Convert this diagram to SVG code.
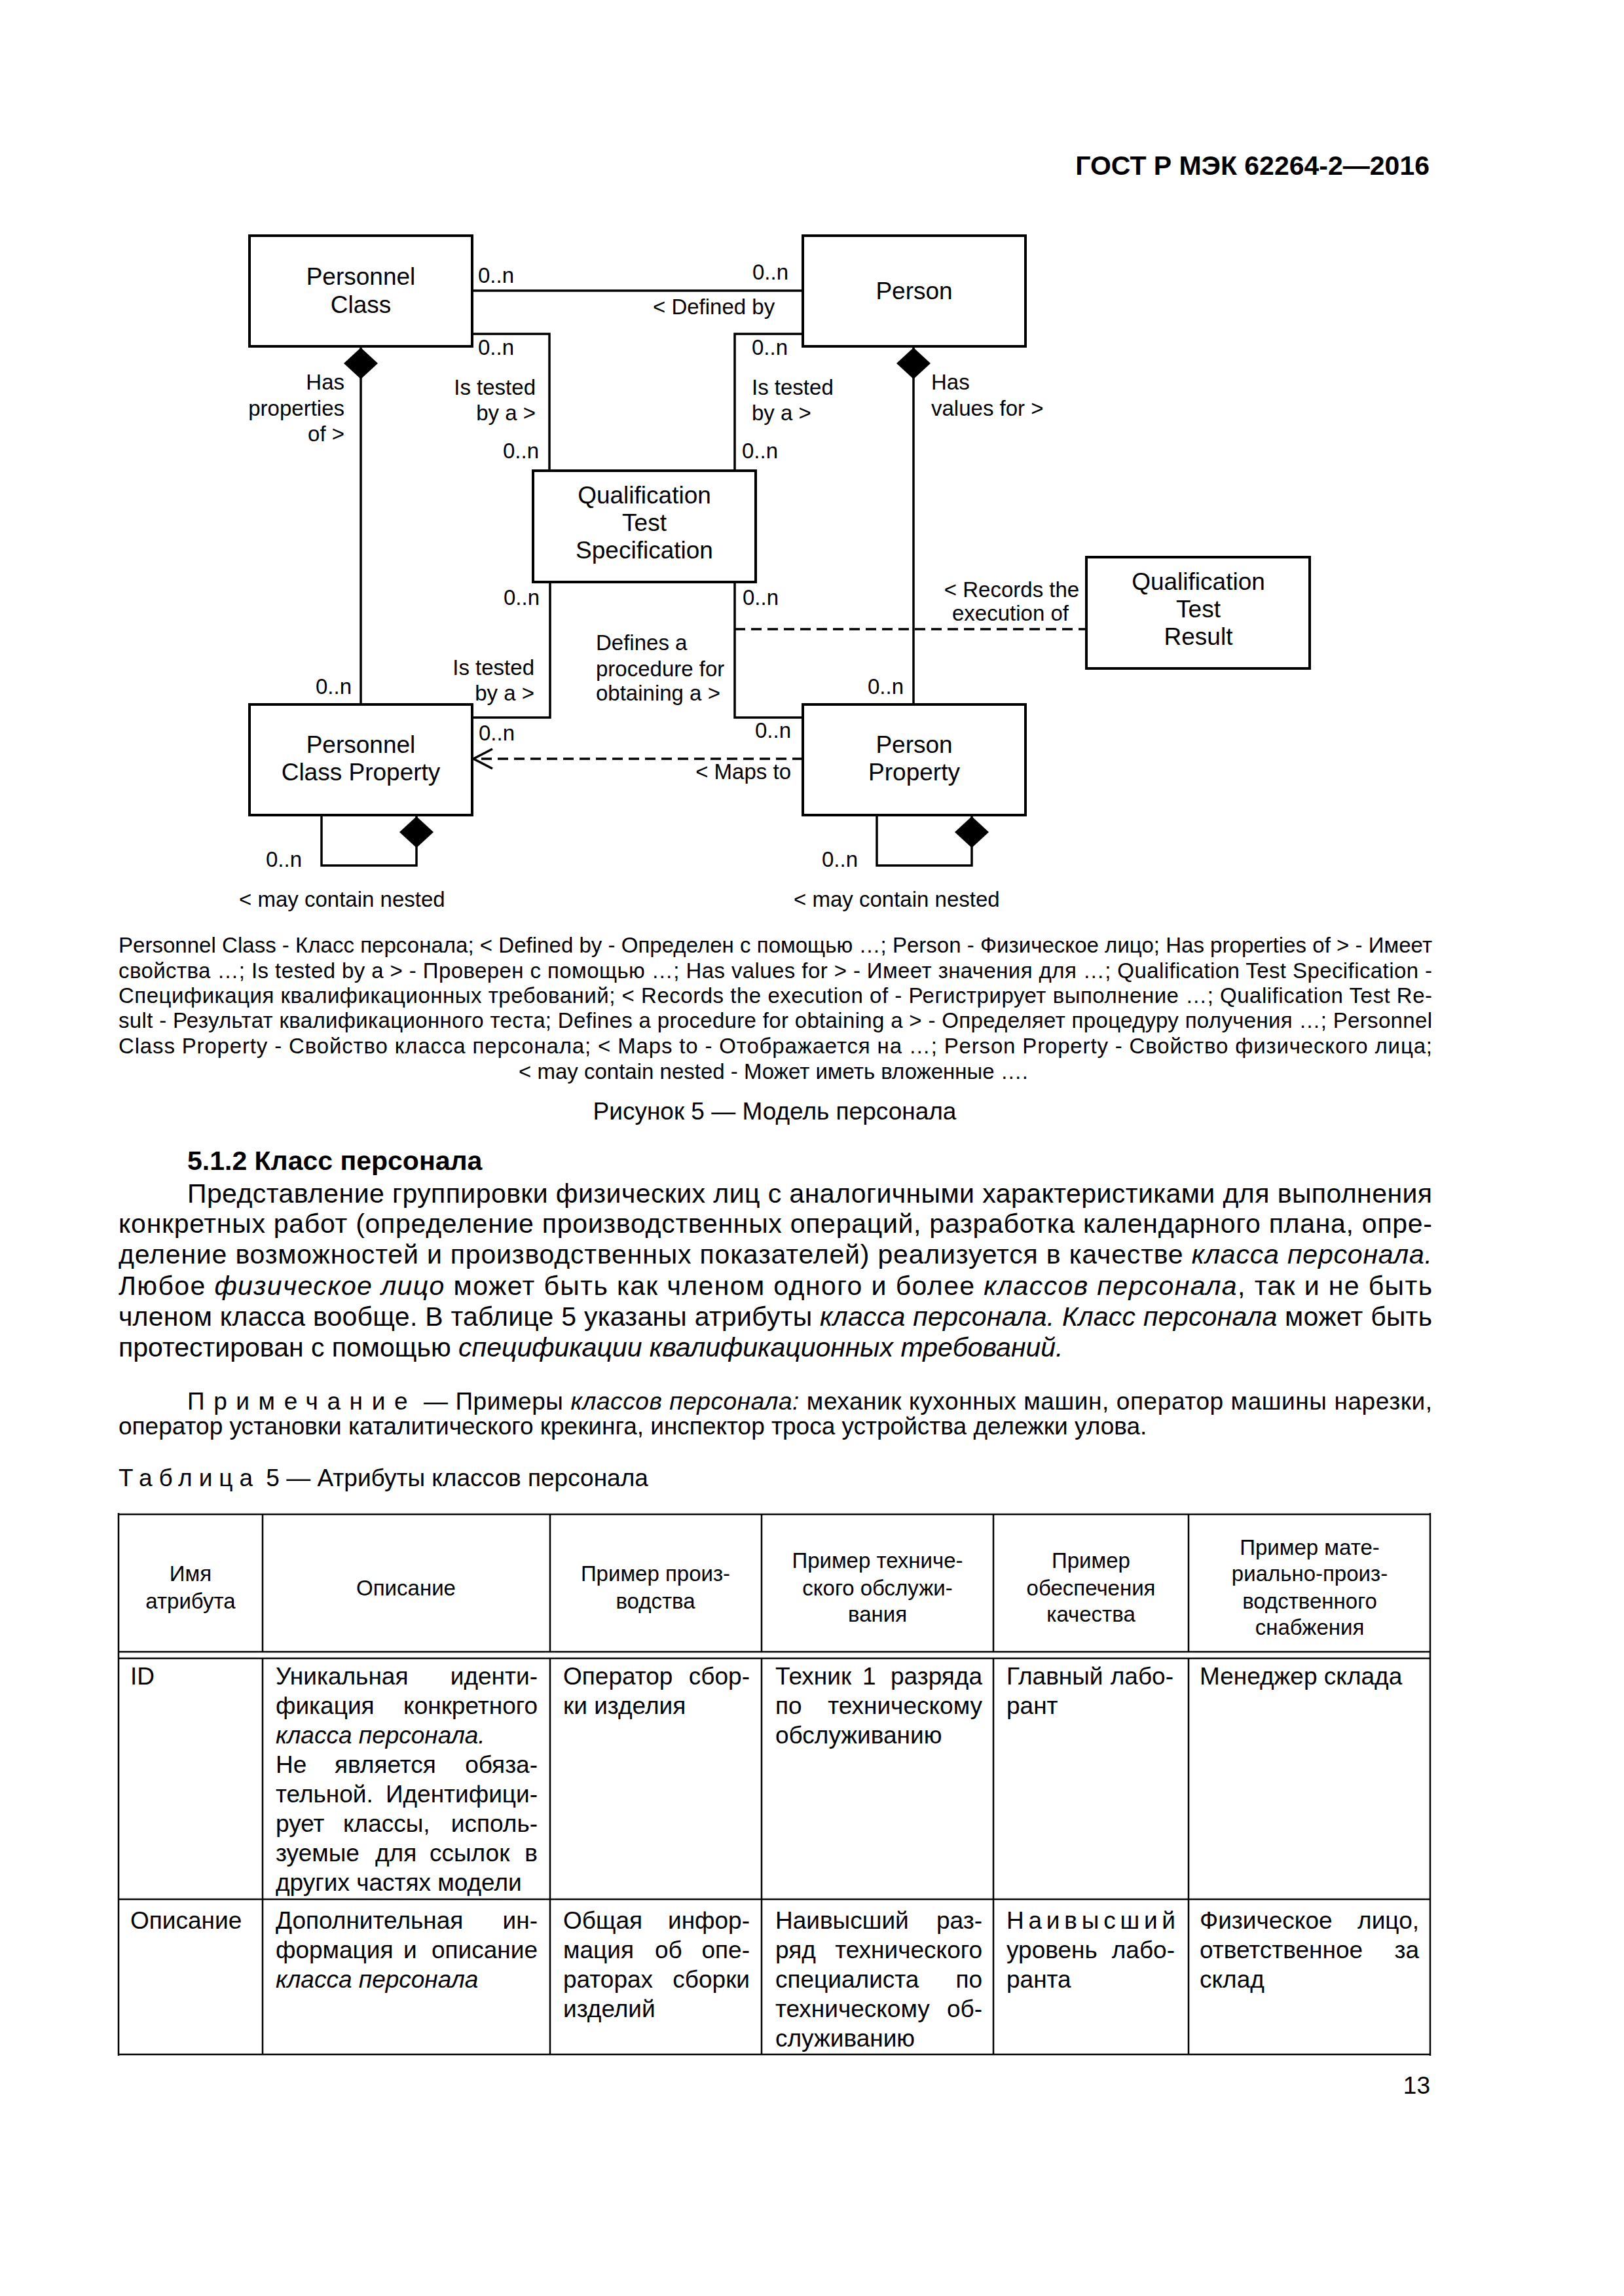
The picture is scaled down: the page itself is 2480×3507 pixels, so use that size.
<svg xmlns="http://www.w3.org/2000/svg" width="2480" height="3507" viewBox="0 0 2480 3507">
<style>
text{font-family:"Liberation Sans",Arial,sans-serif;fill:#000}
.n{font-size:37px;text-anchor:middle}
.l{font-size:33px}
.e{text-anchor:end}
.m{text-anchor:middle}
.box{fill:#fff;stroke:#000;stroke-width:4}
.c{fill:none;stroke:#000;stroke-width:3.5}
.d{fill:none;stroke:#000;stroke-width:3.5;stroke-dasharray:16 9}
.b{font-size:41px}
.cap{font-size:33px}
.t37{font-size:37px}
.h{font-size:33px;text-anchor:middle}
.i{font-style:italic}
.tl{stroke:#000;stroke-width:2.5}
</style>
<defs>
<marker id="comp" markerUnits="userSpaceOnUse" markerWidth="50" markerHeight="54" viewBox="0 -27 50 54" refX="48" refY="0" orient="auto-start-reverse" overflow="visible">
<path d="M0,0 L24,-26 L48,0 L24,26 Z" fill="#000" stroke="none"/>
</marker>
<marker id="open" markerUnits="userSpaceOnUse" markerWidth="34" markerHeight="36" viewBox="-32 -18 34 36" refX="0" refY="0" orient="auto" overflow="visible">
<path d="M-29,-15 L0,0 L-29,15" fill="none" stroke="#000" stroke-width="3.5"/>
</marker>
</defs>
<rect width="2480" height="3507" fill="#fff"/>

<text x="2183" y="267" font-size="41" font-weight="bold" text-anchor="end">ГОСТ Р МЭК 62264-2—2016</text>

<g id="connectors">
<path class="c" d="M721,444 H1226"/>
<path class="c" d="M721,510 H839 V719"/>
<path class="c" d="M1226,510 H1122 V719"/>
<path class="c" d="M551,531 V1076" marker-start="url(#comp)"/>
<path class="c" d="M1395,531 V1076" marker-start="url(#comp)"/>
<path class="c" d="M840,889 V1096 H721"/>
<path class="c" d="M1122,889 V1096 H1226"/>
<path class="d" d="M1122,961 H1659"/>
<path class="d" d="M1226,1159 H723" marker-end="url(#open)"/>
<path class="c" d="M491,1245 V1322 H636 V1247" marker-end="url(#comp)"/>
<path class="c" d="M1339,1245 V1322 H1484 V1247" marker-end="url(#comp)"/>
</g>

<g id="labels">
<text class="l" x="730" y="432">0..n</text>
<text class="l e" x="1204" y="427">0..n</text>
<text class="l" x="997" y="480">&lt; Defined by</text>
<text class="l" x="730" y="542">0..n</text>
<text class="l e" x="818" y="603">Is tested</text>
<text class="l e" x="818" y="642">by a &gt;</text>
<text class="l e" x="823" y="700">0..n</text>
<text class="l" x="1148" y="542">0..n</text>
<text class="l" x="1148" y="603">Is tested</text>
<text class="l" x="1148" y="642">by a &gt;</text>
<text class="l" x="1133" y="700">0..n</text>
<text class="l e" x="526" y="595">Has</text>
<text class="l e" x="526" y="635">properties</text>
<text class="l e" x="526" y="674">of &gt;</text>
<text class="l" x="1422" y="595">Has</text>
<text class="l" x="1422" y="635">values for &gt;</text>
<text class="l e" x="824" y="924">0..n</text>
<text class="l" x="1134" y="924">0..n</text>
<text class="l m" x="1545" y="912">&lt; Records the</text>
<text class="l m" x="1543" y="948">execution of</text>
<text class="l" x="910" y="993">Defines a</text>
<text class="l" x="910" y="1033">procedure for</text>
<text class="l" x="910" y="1070">obtaining a &gt;</text>
<text class="l e" x="816" y="1031">Is tested</text>
<text class="l e" x="816" y="1070">by a &gt;</text>
<text class="l e" x="537" y="1060">0..n</text>
<text class="l e" x="1380" y="1060">0..n</text>
<text class="l" x="731" y="1131">0..n</text>
<text class="l e" x="1208" y="1127">0..n</text>
<text class="l e" x="1208" y="1190">&lt; Maps to</text>
<text class="l" x="406" y="1324">0..n</text>
<text class="l" x="365" y="1385">&lt; may contain nested</text>
<text class="l" x="1255" y="1324">0..n</text>
<text class="l" x="1212" y="1385">&lt; may contain nested</text>
</g>

<g id="personnel-class">
<rect class="box" x="381" y="360" width="340" height="169"/>
<text class="n" x="551" y="435">Personnel</text>
<text class="n" x="551" y="478">Class</text>
</g>
<g id="person">
<rect class="box" x="1226" y="360" width="340" height="169"/>
<text class="n" x="1396" y="457">Person</text>
</g>
<g id="qualification-test-specification">
<rect class="box" x="814" y="719" width="340" height="170"/>
<text class="n" x="984" y="769">Qualification</text>
<text class="n" x="984" y="811">Test</text>
<text class="n" x="984" y="853">Specification</text>
</g>
<g id="qualification-test-result">
<rect class="box" x="1659" y="851" width="341" height="170"/>
<text class="n" x="1830" y="901">Qualification</text>
<text class="n" x="1830" y="943">Test</text>
<text class="n" x="1830" y="985">Result</text>
</g>
<g id="personnel-class-property">
<rect class="box" x="381" y="1076" width="340" height="169"/>
<text class="n" x="551" y="1150">Personnel</text>
<text class="n" x="551" y="1192">Class Property</text>
</g>
<g id="person-property">
<rect class="box" x="1226" y="1076" width="340" height="169"/>
<text class="n" x="1396" y="1150">Person</text>
<text class="n" x="1396" y="1192">Property</text>
</g>

<g id="caption">
<text class="cap" x="181" y="1455" textLength="2006" lengthAdjust="spacing">Personnel Class - Класс персонала; &lt; Defined by - Определен с помощью …; Person - Физическое лицо; Has properties of &gt; - Имеет</text>
<text class="cap" x="181" y="1494" textLength="2006" lengthAdjust="spacing">свойства …; Is tested by a &gt; - Проверен с помощью …; Has values for &gt; - Имеет значения для …; Qualification Test Specification -</text>
<text class="cap" x="181" y="1532" textLength="2006" lengthAdjust="spacing">Спецификация квалификационных требований; &lt; Records the execution of - Регистрирует выполнение …; Qualification Test Re-</text>
<text class="cap" x="181" y="1570" textLength="2006" lengthAdjust="spacing">sult - Результат квалификационного теста; Defines a procedure for obtaining a &gt; - Определяет процедуру получения …; Personnel</text>
<text class="cap" x="181" y="1609" textLength="2006" lengthAdjust="spacing">Class Property - Свойство класса персонала; &lt; Maps to - Отображается на …; Person Property - Свойство физического лица;</text>
<text class="cap m" x="1181" y="1648">&lt; may contain nested - Может иметь вложенные ….</text>
<text class="t37 m" x="1183" y="1710">Рисунок 5 — Модель персонала</text>
</g>

<g id="body">
<text x="286" y="1787" font-size="41" font-weight="bold">5.1.2 Класс персонала</text>
<text class="b" x="286" y="1837" textLength="1901" lengthAdjust="spacing">Представление группировки физических лиц с аналогичными характеристиками для выполнения</text>
<text class="b" x="181" y="1883" textLength="2006" lengthAdjust="spacing">конкретных работ (определение производственных операций, разработка календарного плана, опре-</text>
<text class="b" x="181" y="1930" textLength="2006" lengthAdjust="spacing">деление возможностей и производственных показателей) реализуется в качестве <tspan class="i">класса персонала.</tspan></text>
<text class="b" x="181" y="1978" textLength="2006" lengthAdjust="spacing">Любое <tspan class="i">физическое лицо</tspan> может быть как членом одного и более <tspan class="i">классов персонала</tspan>, так и не быть</text>
<text class="b" x="181" y="2025" textLength="2006" lengthAdjust="spacing">членом класса вообще. В таблице 5 указаны атрибуты <tspan class="i">класса персонала. Класс персонала</tspan> может быть</text>
<text class="b" x="181" y="2072">протестирован с помощью <tspan class="i">спецификации квалификационных требований.</tspan></text>
<text class="t37" x="286" y="2153" textLength="1901" lengthAdjust="spacing"><tspan letter-spacing="13">Примечание</tspan> — Примеры <tspan class="i">классов персонала:</tspan> механик кухонных машин, оператор машины нарезки,</text>
<text class="t37" x="181" y="2191">оператор установки каталитического крекинга, инспектор троса устройства дележки улова.</text>
<text class="t37" x="181" y="2270"><tspan letter-spacing="10">Таблица</tspan> 5 — Атрибуты классов персонала</text>
</g>

<g id="table">
<line class="tl" x1="181" y1="2313" x2="2184" y2="2313" stroke-width="4"/>
<line class="tl" x1="181" y1="2523" x2="2184" y2="2523" stroke-width="3"/>
<line class="tl" x1="181" y1="2533" x2="2184" y2="2533" stroke-width="5"/>
<line class="tl" x1="181" y1="2901" x2="2184" y2="2901" stroke-width="3"/>
<line class="tl" x1="181" y1="3138" x2="2184" y2="3138" stroke-width="3"/>
<line class="tl" x1="181" y1="2311" x2="181" y2="3140" stroke-width="3"/>
<line class="tl" x1="2184" y1="2311" x2="2184" y2="3140" stroke-width="3"/>
<path class="tl" fill="none" d="M401,2313 V2523 M840,2313 V2523 M1163,2313 V2523 M1517,2313 V2523 M1815,2313 V2523 M401,2533 V3138 M840,2533 V3138 M1163,2533 V3138 M1517,2533 V3138 M1815,2533 V3138"/>

<text class="h" x="291" y="2415">Имя</text>
<text class="h" x="291" y="2457">атрибута</text>
<text class="h" x="620" y="2437">Описание</text>
<text class="h" x="1001" y="2415">Пример произ-</text>
<text class="h" x="1001" y="2457">водства</text>
<text class="h" x="1340" y="2395">Пример техниче-</text>
<text class="h" x="1340" y="2437">ского обслужи-</text>
<text class="h" x="1340" y="2477">вания</text>
<text class="h" x="1666" y="2395">Пример</text>
<text class="h" x="1666" y="2437">обеспечения</text>
<text class="h" x="1666" y="2477">качества</text>
<text class="h" x="2000" y="2375">Пример мате-</text>
<text class="h" x="2000" y="2415">риально-произ-</text>
<text class="h" x="2000" y="2457">водственного</text>
<text class="h" x="2000" y="2497">снабжения</text>

<text class="t37" x="199" y="2573">ID</text>
<text class="t37" y="2573"><tspan x="421">Уникальная</tspan><tspan x="821" text-anchor="end">иденти-</tspan></text>
<text class="t37" y="2618"><tspan x="421">фикация</tspan><tspan x="821" text-anchor="end">конкретного</tspan></text>
<text class="t37 i" x="421" y="2663">класса персонала.</text>
<text class="t37" y="2708"><tspan x="421">Не</tspan><tspan x="511">является</tspan><tspan x="821" text-anchor="end">обяза-</tspan></text>
<text class="t37" y="2753"><tspan x="421">тельной.</tspan><tspan x="821" text-anchor="end">Идентифици-</tspan></text>
<text class="t37" y="2798"><tspan x="421">рует</tspan><tspan x="524">классы,</tspan><tspan x="821" text-anchor="end">исполь-</tspan></text>
<text class="t37" y="2843"><tspan x="421">зуемые</tspan><tspan x="573">для</tspan><tspan x="656">ссылок</tspan><tspan x="821" text-anchor="end">в</tspan></text>
<text class="t37" x="421" y="2888">других частях модели</text>

<text class="t37" y="2573"><tspan x="860">Оператор</tspan><tspan x="1145" text-anchor="end">сбор-</tspan></text>
<text class="t37" x="860" y="2618">ки изделия</text>

<text class="t37" y="2573"><tspan x="1184">Техник</tspan><tspan x="1317">1</tspan><tspan x="1500" text-anchor="end">разряда</tspan></text>
<text class="t37" y="2618"><tspan x="1184">по</tspan><tspan x="1500" text-anchor="end">техническому</tspan></text>
<text class="t37" x="1184" y="2663">обслуживанию</text>

<text class="t37" y="2573"><tspan x="1537">Главный</tspan><tspan x="1792" text-anchor="end">лабо-</tspan></text>
<text class="t37" x="1537" y="2618">рант</text>

<text class="t37" x="1832" y="2573">Менеджер склада</text>

<text class="t37" x="199" y="2946">Описание</text>
<text class="t37" y="2946"><tspan x="421">Дополнительная</tspan><tspan x="821" text-anchor="end">ин-</tspan></text>
<text class="t37" y="2991"><tspan x="421">формация</tspan><tspan x="616">и</tspan><tspan x="821" text-anchor="end">описание</tspan></text>
<text class="t37 i" x="421" y="3036">класса персонала</text>

<text class="t37" y="2946"><tspan x="860">Общая</tspan><tspan x="1145" text-anchor="end">инфор-</tspan></text>
<text class="t37" y="2991"><tspan x="860">мация</tspan><tspan x="1000">об</tspan><tspan x="1145" text-anchor="end">опе-</tspan></text>
<text class="t37" y="3036"><tspan x="860">раторах</tspan><tspan x="1145" text-anchor="end">сборки</tspan></text>
<text class="t37" x="860" y="3081">изделий</text>

<text class="t37" y="2946"><tspan x="1184">Наивысший</tspan><tspan x="1500" text-anchor="end">раз-</tspan></text>
<text class="t37" y="2991"><tspan x="1184">ряд</tspan><tspan x="1500" text-anchor="end">технического</tspan></text>
<text class="t37" y="3036"><tspan x="1184">специалиста</tspan><tspan x="1500" text-anchor="end">по</tspan></text>
<text class="t37" y="3081"><tspan x="1184">техническому</tspan><tspan x="1500" text-anchor="end">об-</tspan></text>
<text class="t37" x="1184" y="3126">служиванию</text>

<text class="t37" x="1537" y="2946" textLength="258" lengthAdjust="spacing">Наивысший</text>
<text class="t37" y="2991"><tspan x="1537">уровень</tspan><tspan x="1794" text-anchor="end">лабо-</tspan></text>
<text class="t37" x="1537" y="3036">ранта</text>

<text class="t37" y="2946"><tspan x="1832">Физическое</tspan><tspan x="2167" text-anchor="end">лицо,</tspan></text>
<text class="t37" y="2991"><tspan x="1832">ответственное</tspan><tspan x="2167" text-anchor="end">за</tspan></text>
<text class="t37" x="1832" y="3036">склад</text>
</g>

<text class="t37" x="2184" y="3198" text-anchor="end">13</text>
</svg>
